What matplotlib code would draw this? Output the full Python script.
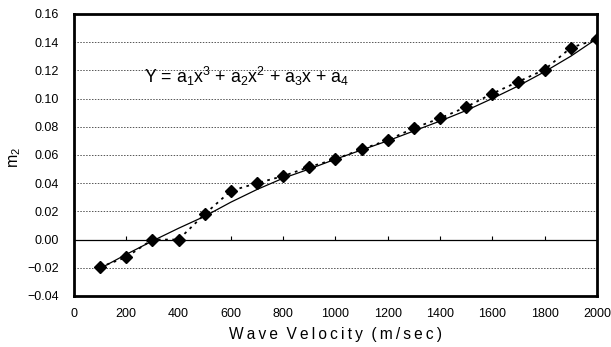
import matplotlib
matplotlib.use("Agg")
import matplotlib.pyplot as plt

plt.rcParams['font.family'] = ['Liberation Sans', 'DejaVu Sans']
plt.rcParams['mathtext.fontset'] = 'custom'
plt.rcParams['mathtext.rm'] = 'Liberation Sans'
plt.rcParams['mathtext.it'] = 'Liberation Sans'

velocity = [100, 200, 300, 400, 500, 600, 700, 800, 900, 1000,
            1100, 1200, 1300, 1400, 1500, 1600, 1700, 1800, 1900, 2000]
m2_data = [-0.0195, -0.0125, 0.0, 0.0, 0.018, 0.0345, 0.040, 0.045, 0.0515, 0.057,
           0.064, 0.0705, 0.079, 0.086, 0.094, 0.1035, 0.112, 0.1205, 0.136, 0.142]
m2_fit = [-0.0205, -0.0105, -0.001, 0.008, 0.0165, 0.0265, 0.0355, 0.0435, 0.050, 0.057,
          0.0635, 0.070, 0.077, 0.084, 0.0915, 0.100, 0.109, 0.119, 0.130, 0.1425]
x_ticks = [0, 200, 400, 600, 800, 1000, 1200, 1400, 1600, 1800, 2000]
y_ticks = [-0.04, -0.02, 0.00, 0.02, 0.04, 0.06, 0.08, 0.10, 0.12, 0.14, 0.16]

fig = plt.figure(figsize=(6.11, 3.47), dpi=100)
ax = fig.add_axes([0.121, 0.147, 0.856, 0.813])

for yv in y_ticks[1:-1]:
    if yv == 0:
        continue
    ax.axhline(yv, color='#555555', lw=0.7, ls=(0, (1.5, 1.5)), zorder=1)
ax.axhline(0, color='black', lw=0.9, zorder=1)
ax.plot(x_ticks[1:-1], [0] * (len(x_ticks) - 2), ls='none', marker=2,
        ms=3, mew=0.8, color='black', zorder=1)

ax.plot(velocity, m2_fit, color='black', lw=0.9, zorder=2)
ax.plot(velocity, m2_data, color='black', lw=1.3, ls=(0, (1.5, 2.5)),
        marker='D', ms=6.5, mfc='black', mec='black', zorder=3)

ax.set_xlim(0, 2000)
ax.set_ylim(-0.04, 0.16)
ax.set_xticks(x_ticks)
ax.set_yticks(y_ticks)
ax.set_yticklabels([f"{v:.2f}".replace('-', '\u2212') for v in y_ticks])
ax.tick_params(length=0, labelsize=9)
ax.tick_params(axis='x', pad=9)
ax.tick_params(axis='y', pad=11)
for s in ax.spines.values():
    s.set_linewidth(2.0)

ax.text(268, 0.1155, r"Y = a$_1$x$^3$ + a$_2$x$^2$ + a$_3$x + a$_4$", fontsize=12.8,
        ha='left', va='center')

sp = '\u2009'
label = '  '.join(sp.join(w) for w in ["Wave", "Velocity", "(m/sec)"])
ax.set_xlabel(label, fontsize=11.2, labelpad=5)
fig.text(15 / 611, 1 - 157 / 347, "m$_2$", fontsize=11.5, rotation=90,
         ha='center', va='center')

fig.savefig("out.png", dpi=100)
